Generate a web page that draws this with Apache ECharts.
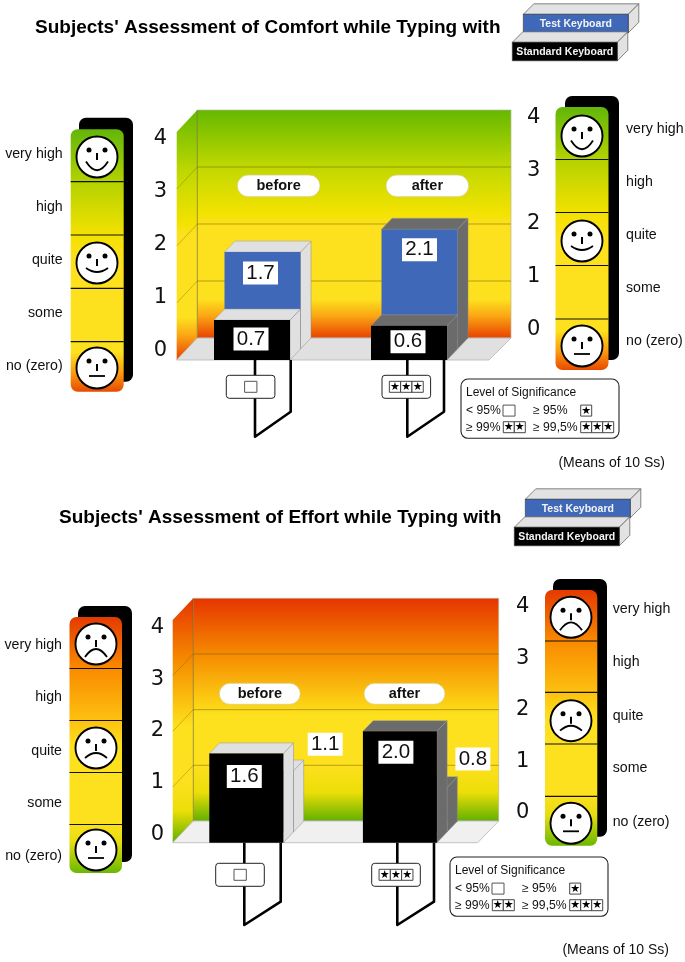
<!DOCTYPE html>
<html><head><meta charset="utf-8">
<style>html,body{margin:0;padding:0;background:#fff}#c{width:685px;height:962px}</style>
<script src="https://cdn.jsdelivr.net/npm/echarts@6/dist/echarts.min.js"></script>
</head><body><div id="c"></div>
<script>
// ---- data ----
const periods = ['before', 'after'];
const comfortStandard = [0.7, 0.6];
const comfortTest = [1.7, 2.1];
const effortStandard = [1.6, 2.0];
const effortTest = [1.1, 0.8];
const comfortStars = [0, 3];
const effortStars = [0, 3];
const axisTicks = [0, 1, 2, 3, 4];
const ratingLabels = ['very high', 'high', 'quite', 'some', 'no (zero)'];
const comfortTitle = "Subjects' Assessment of Comfort while Typing with";
const effortTitle = "Subjects' Assessment of Effort while Typing with";
const keyboards = ['Test Keyboard', 'Standard Keyboard'];
const significance = [['< 95%', 0], ['\u2265 95%', 1], ['\u2265 99%', 2], ['\u2265 99,5%', 3]];
const meansNote = '(Means of 10 Ss)';

// ---- layout / styles ----
const SANS = '"Liberation Sans", Arial, sans-serif';
const sideColors = ['#e0e0e0', '#6b6b6b'];
const gradTop = [[0,'#64b800'],[.25,'#c0d800'],[.45,'#f2e200'],[.5,'#fde01e'],[.83,'#fde01e'],[.9,'#fba814'],[1,'#e84000']];
const gradBot = [[0,'#e63400'],[.25,'#f58a00'],[.47,'#fcd014'],[.52,'#fde01e'],[.75,'#fde01e'],[.87,'#ecde08'],[1,'#5fb000']];
const ladTop = [[0,'#62b60a'],[.2,'#b4d200'],[.4,'#f2e100'],[.5,'#fde01e'],[.85,'#fde01e'],[.93,'#fa9a10'],[1,'#e84a00']];
const ladBot = [[0,'#e43a00'],[.2,'#f98a00'],[.4,'#fdc010'],[.5,'#fde01e'],[.8,'#fde01e'],[.88,'#e6dd10'],[1,'#6ab800']];
const lg = (stops) => ({type:'linear',x:0,y:0,x2:0,y2:1,colorStops:stops.map(s=>({offset:s[0],color:s[1]}))});

const panels = [
 {grid:{left:173.5,width:314,top:132,height:228}, barW:76, dw:[20.6,-22], dd:[10.5,-11], wall:[176.7,489,511], floor:'#e0e0e0', wallGrad:gradTop,
  leftAxis:{left:170,top:139,height:212}, rightAxis:{left:522,top:118,height:212},
  front:comfortStandard, rear:comfortTest, frontFill:'#000', rearFill:'#3f68b8',
  frontLab:[[-1,19],[-1,16]], rearLab:[[-2,21],[0,20.5]]},
 {grid:{left:169.5,width:307.2,top:620,height:222.7}, barW:74, dw:[20.6,-21.7], dd:[10.2,-10.7], wall:[172.7,477.7,498.7], floor:'#f0f0f0', wallGrad:gradBot,
  leftAxis:{left:167,top:627.3,height:207}, rightAxis:{left:511,top:606.7,height:206},
  front:effortStandard, rear:effortTest, frontFill:'#000', rearFill:'#3f68b8',
  frontLab:[[-2,23],[-4,21]], rearLab:[[68.7,null],[62.8,null]]}
];

function wallItem(p){ return function(params, api){
  const top = api.coord([0,4])[1], bot = api.coord([0,0])[1];
  const [fl,fr,br] = p.wall, [dx,dy] = p.dw, bl = fl+dx;
  const kids = [
   {type:'rect',shape:{x:bl,y:top+dy,width:br-bl,height:bot-top},style:{fill:lg(p.wallGrad),stroke:'#b8b8a0',lineWidth:.7}},
   {type:'polygon',shape:{points:[[fl,top],[bl,top+dy],[bl,bot+dy],[fl,bot]]},style:{fill:lg(p.wallGrad)}},
   {type:'polygon',shape:{points:[[fl,bot],[bl,bot+dy],[br,bot+dy],[fr,bot]]},style:{fill:p.floor,stroke:'#b5b5b5',lineWidth:.8}}
  ];
  axisTicks.forEach(t=>{
    const y = api.coord([0,t])[1];
    if (t>0 && t<4) kids.push({type:'line',shape:{x1:bl,y1:y+dy,x2:br,y2:y+dy},style:{stroke:'rgba(90,80,0,.55)',lineWidth:.8}});
    if (t>0 && t<4) kids.push({type:'line',shape:{x1:fl,y1:y,x2:bl,y2:y+dy},style:{stroke:'rgba(90,80,0,.45)',lineWidth:.7}});
  });
  kids.push({type:'line',shape:{x1:bl,y1:top+dy,x2:bl,y2:bot+dy},style:{stroke:'rgba(90,80,0,.6)',lineWidth:.8}});
  return {type:'group',children:kids};
};}

function barItem(p, fill, shift){ return function(params, api){
  const i = api.value(0), v = api.value(1);
  const [dx,dy] = p.dd, w = p.barW, ox = shift?dx:0, oy = shift?dy:0;
  const c0 = api.coord([i,0]), c1 = api.coord([i,v]);
  const x = c0[0]-w/2+ox, yb = c0[1]+oy, yt = c1[1]+oy, side = sideColors[i];
  const kids = [
   {type:'polygon',shape:{points:[[x+w,yb],[x+w+dx,yb+dy],[x+w+dx,yt+dy],[x+w,yt]]},style:{fill:side,stroke:'#8a8a8a',lineWidth:.5}},
   {type:'polygon',shape:{points:[[x,yt],[x+dx,yt+dy],[x+w+dx,yt+dy],[x+w,yt]]},style:{fill:side,stroke:'#9a9a9a',lineWidth:.5}},
   {type:'rect',shape:{x:x,y:yt,width:w,height:yb-yt},style:{fill:fill}}
  ];
  return {type:'group',children:kids};
};}

function labelItem(p, shift, labs){ return function(params, api){
  const i = api.value(0), v = api.value(1);
  const [dx,dy] = p.dd, ox = shift?dx:0, oy = shift?dy:0;
  const c0 = api.coord([i,0]), c1 = api.coord([i,v]);
  const cx = c0[0]+ox+labs[i][0];
  const cy = labs[i][1]===null ? c1[1]+oy+(i===0?-26.5:-28.5) : c1[1]+oy+labs[i][1];
  return {type:'group',children:[
   {type:'rect',shape:{x:cx-17.5,y:cy-11.5,width:35,height:23},style:{fill:'#fff'}},
   {type:'text',style:{x:cx,y:cy,text:v.toFixed(1),fill:'#111',font:'20.5px '+SANS,align:'center',verticalAlign:'middle'}}
  ]};
};}

const grids=[], xAxes=[], yAxes=[], series=[];
panels.forEach((p)=>{
  const g0 = grids.length;
  grids.push(p.grid);
  grids.push({left:p.leftAxis.left,width:1,top:p.leftAxis.top,height:p.leftAxis.height});
  grids.push({left:p.rightAxis.left,width:1,top:p.rightAxis.top,height:p.rightAxis.height});
  xAxes.push({gridIndex:g0,type:'category',data:periods,show:false});
  xAxes.push({gridIndex:g0+1,type:'value',show:false});
  xAxes.push({gridIndex:g0+2,type:'value',show:false});
  yAxes.push({gridIndex:g0,type:'value',min:0,max:4,interval:1,show:false});
  [[g0+1,'left',3],[g0+2,'right',4]].forEach(a=>{
    yAxes.push({gridIndex:a[0],type:'value',position:a[1],min:0,max:4,interval:1,
      axisLine:{show:false},axisTick:{show:false},splitLine:{show:false},
      axisLabel:{margin:a[2],color:'#111',fontFamily:'"DejaVu Sans"',fontSize:21,
        customValues:axisTicks}});
  });
  const base = {type:'custom',xAxisIndex:g0,yAxisIndex:g0,silent:true,clip:false,encode:{x:0,y:1}};
  const pts = a=>a.map((v,i)=>[i,v]);
  series.push(Object.assign({},base,{z:1,renderItem:wallItem(p),data:[[0,0]]}));
  series.push(Object.assign({},base,{z:2,renderItem:barItem(p,p.rearFill,true),data:pts(p.rear)}));
  series.push(Object.assign({},base,{z:3,renderItem:barItem(p,p.frontFill,false),data:pts(p.front)}));
  series.push(Object.assign({},base,{z:4,renderItem:labelItem(p,true,p.rearLab),data:pts(p.rear)}));
  series.push(Object.assign({},base,{z:4,renderItem:labelItem(p,false,p.frontLab),data:pts(p.front)}));
});

// ---- decorations ----
const G=[];
const Z=10;
const rect=(x,y,w,h,fill,stroke,lw,r,z)=>G.push({type:'rect',z:z||Z,shape:{x,y,width:w,height:h,r:r||0},style:{fill:fill,stroke:stroke||null,lineWidth:lw||0}});
const text=(x,y,t,font,fill,align,z)=>G.push({type:'text',z:z||Z+1,x:x,y:y,style:{text:t,font:font,fill:fill||'#111',align:align||'left',verticalAlign:'middle'}});
const poly=(pts,fill,stroke,lw)=>G.push({type:'polygon',z:Z,shape:{points:pts},style:{fill,stroke,lineWidth:lw||.7}});
const pline=(pts,lw)=>G.push({type:'polyline',z:Z,shape:{points:pts,smooth:0},style:{stroke:'#000',lineWidth:lw||2.6,fill:null,lineJoin:'round'}});

function starCells(x,y,n,w,h,z){
  for(let i=0;i<n;i++){
    rect(x+i*w,y,w,h,'#fff','#333',.9,0,z);
    G.push({type:'text',z:z+1,x:x+i*w+w/2,y:y+h/2+.3,style:{text:'\u2605',font:'11px "DejaVu Sans"',fill:'#000',align:'center',verticalAlign:'middle'}});
  }
  if(n===0) rect(x,y,w+1,h,'#fff','#555',1,0,z);
}
function face(cx,cy,kind){
  G.push({type:'circle',z:Z+1,shape:{cx,cy,r:20.5},style:{fill:'#fff',stroke:'#000',lineWidth:1.9}});
  [-8,8].forEach(d=>G.push({type:'circle',z:Z+2,shape:{cx:cx+d,cy:cy-7,r:2.5},style:{fill:'#000'}}));
  G.push({type:'line',z:Z+2,shape:{x1:cx,y1:cy-4,x2:cx,y2:cy+3},style:{stroke:'#000',lineWidth:2}});
  const m={smile:[11,4.5,22],mild:[11,5,13],neutral:[8,8,8],frown:[11,13,-3],sad:[11,10,0]}[kind];
  G.push({type:'bezierCurve',z:Z+2,shape:{x1:cx-m[0],y1:cy+m[1],x2:cx+m[0],y2:cy+m[1],cpx1:cx,cpy1:cy+m[2]},style:{stroke:'#000',lineWidth:1.8,fill:null}});
}
function ladder(l){
  rect(l.bx,l.by,54,l.bh,'#000',null,0,7);
  G[G.length-1].z=Z-1;
  rect(l.x,l.y,l.w,l.h,lg(l.grad),null,0,7);
  l.div.forEach(y=>G.push({type:'line',z:Z+1,shape:{x1:l.x,y1:y,x2:l.x+l.w,y2:y},style:{stroke:'#111',lineWidth:1.2}}));
  l.faces.forEach(f=>face(f[0],f[1],f[2]));
  ratingLabels.forEach((t,i)=>text(l.tx,l.ty[i],t,'14.2px '+SANS,'#111',l.align));
}
function keyboard(dx,dy){
  const a=[523.3+dx,14.3+dy], b=[512.3+dx,42.3+dy], w=105,h=18.5,ox=10.5,oy=-10.5;
  [[a,'#3f68b8',keyboards[0]],[b,'#000',keyboards[1]]].forEach(k=>{
    const [x,y]=k[0];
    poly([[x,y],[x+ox,y+oy],[x+w+ox,y+oy],[x+w,y]],'#e2e2e2','#555');
    poly([[x+w,y],[x+w+ox,y+oy],[x+w+ox,y+h+oy],[x+w,y+h]],'#e2e2e2','#555');
    rect(x,y,w,h,k[1],'#333',.6);
    text(x+w/2,y+h/2+.3,k[2],'bold 10.5px '+SANS,'#f4f4f4','center');
  });
}
function legend(dx,dy){
  rect(461+dx,379+dy,158,59.3,'#fff','#222',1.1,7);
  const F='12px '+SANS;
  text(466+dx,392.3+dy,'Level of Significance',F);
  const pos=[[466,410.7,503],[533,410.7,580.7],[466,427.3,503.3],[533,427.3,580.7]];
  significance.forEach((s,i)=>{
    text(pos[i][0]+dx,pos[i][1]+dy,s[0],'12.2px '+SANS);
    starCells(pos[i][2]+dx,pos[i][1]-5.6+dy,s[1],11,11,Z+1);
  });
}
function periodsAndLinks(cfg){
  periods.forEach((t,i)=>{
    rect(cfg.pill[i],cfg.pillY,cfg.pillW,cfg.pillH,'#fff','#d8cf80',.8,11);
    text(cfg.pill[i]+cfg.pillW/2,cfg.pillY+cfg.pillH/2+.5,t,'bold 14.5px '+SANS,'#111','center');
    const L=cfg.lx[i], R=cfg.rx[i];
    pline([[L,cfg.y0],[L,cfg.yEnd],[R,cfg.yBend],[R,cfg.y0]]);
    rect(cfg.bx[i],cfg.by,48.6,23,'#fff','#222',1,3,Z+1);
    const n=cfg.stars[i], cw=11.3;
    const sx=cfg.bx[i]+24.3-(n?n*cw:12)/2;
    starCells(sx,cfg.by+6,n,cw,11,Z+2);
  });
}

text(35,28,comfortTitle,'bold 19px '+SANS,'#000');
text(59,518,effortTitle,'bold 19px '+SANS,'#000');
keyboard(0,0); keyboard(2,485);
legend(0,0); legend(-11,478);
text(665,463.3,meansNote,'14px '+SANS,'#111','right');
text(669,950,meansNote,'14px '+SANS,'#111','right');

periodsAndLinks({pill:[237.3,386],pillY:175,pillW:82.7,pillH:21.7,lx:[255,407.3],rx:[290.7,444],y0:360,yEnd:436.7,yBend:411.7,bx:[226.3,382],by:375.3,stars:comfortStars});
periodsAndLinks({pill:[219.3,364],pillY:683.3,pillW:81,pillH:21,lx:[244.3,397.3],rx:[280.7,434],y0:842.7,yEnd:925,yBend:901.7,bx:[215.7,371.7],by:863.3,stars:effortStars});

ladder({bx:79,by:117.7,bh:264,x:70.7,y:129.3,w:53,h:262.4,grad:ladTop,div:[181.7,235,288.3,341.7],
  faces:[[97,157,'smile'],[97,263,'mild'],[97,368,'neutral']],tx:62.7,ty:[154,207,260,313,366],align:'right'});
ladder({bx:565,by:96,bh:264,x:555.5,y:107,w:53,h:263,grad:ladTop,div:[159.5,212.5,265.5,319],
  faces:[[582,136,'smile'],[582,241,'mild'],[582,346,'neutral']],tx:626,ty:[129,182,235,288,341],align:'left'});
ladder({bx:78,by:606,bh:256,x:69.5,y:617,w:52.5,h:256,grad:ladBot,div:[668.5,720.5,772.5,824.5],
  faces:[[96,644,'frown'],[96,748,'sad'],[96,850,'neutral']],tx:62,ty:[645,697,751,803,856],align:'right'});
ladder({bx:553,by:579,bh:257.7,x:545,y:590,w:52.3,h:255.7,grad:ladBot,div:[641,692.3,744,796.3],
  faces:[[571,617.3,'frown'],[571,720.7,'sad'],[571,823.3,'neutral']],tx:612.7,ty:[609.3,661.7,715.7,768.3,822.3],align:'left'});

const chart = echarts.init(document.getElementById('c'),null,{renderer:'canvas'});
chart.setOption({animation:false,backgroundColor:'#fff',grid:grids,xAxis:xAxes,yAxis:yAxes,series:series,graphic:{elements:G}});
</script></body></html>
